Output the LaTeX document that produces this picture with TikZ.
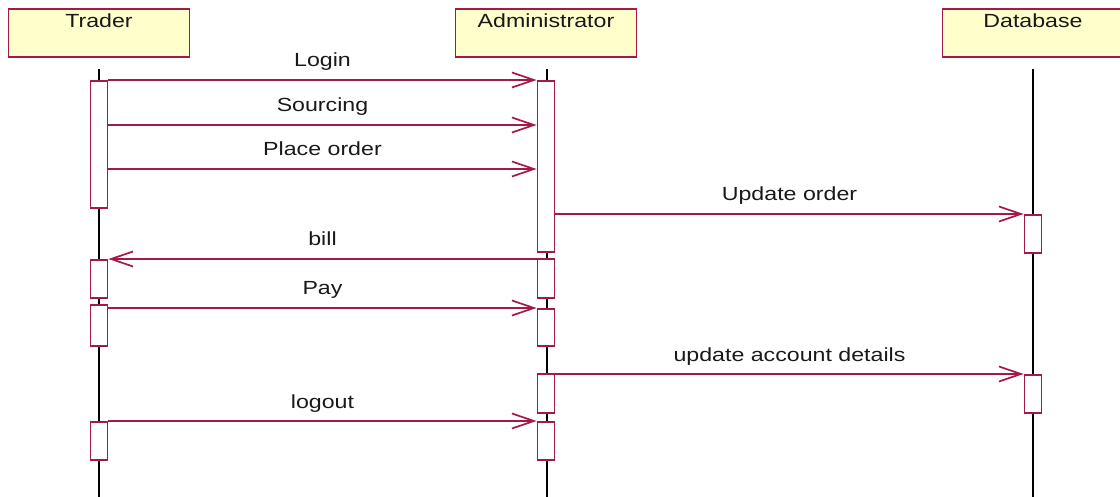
\documentclass[tikz,border=0pt]{standalone}
\usepackage{fontspec}
\setmainfont{Liberation Sans}[FakeStretch=1.22]
\usetikzlibrary{arrows.meta}
\definecolor{umlred}{RGB}{165,25,70}
\definecolor{umlyellow}{RGB}{255,255,204}
\begin{document}
\begin{tikzpicture}[x=1pt,y=-1pt,
  every node/.style={font=\fontsize{19}{22}\selectfont, text=black!90},
  head/.style={draw=umlred, line width=1.8pt, fill=umlyellow, minimum width=181pt, inner sep=0pt, text height=19pt, text depth=29pt, anchor=north},
  act/.style={draw=umlred, line width=1.8pt, fill=white, minimum width=17pt, inner sep=0pt, anchor=north},
  life/.style={line width=1.4pt, black},
  msg/.style={draw=umlred, line width=1.7pt, -{Straight Barb[length=22pt,width=15pt]}},
  lbl/.style={midway, anchor=base, yshift=13pt}]
\useasboundingbox (0,0) rectangle (1120,497);
\clip (0,0) rectangle (1120,497);
% headers
\node[head] (trader) at (99,8) {Trader};
\node[head] (admin) at (546,8) {Administrator};
\node[head] (db) at (1033,8) {Database};
% lifeline ends
\coordinate (tb) at (99,497);
\coordinate (ab) at (547,497);
\coordinate (db-b) at (1033,497);
\draw[life] ([yshift=-11pt]trader.south) -- (tb);
\draw[life] ([xshift=1pt,yshift=-11pt]admin.south) -- (ab);
\draw[life] ([yshift=-11pt]db.south) -- (db-b);
% activations
\node[act, minimum height=127pt] (ta1) at (99,80) {};
\node[act, minimum height=38pt] (ta2) at (99,259) {};
\node[act, minimum height=41pt] (ta3) at (99,304) {};
\node[act, minimum height=38pt] (ta4) at (99,421) {};
\node[act, minimum height=171pt] (aa1) at (546,80) {};
\node[act, minimum height=39pt] (aa2) at (546,258) {};
\node[act, minimum height=37pt] (aa3) at (546,308) {};
\node[act, minimum height=39pt] (aa4) at (546,373) {};
\node[act, minimum height=38pt] (aa5) at (546,421) {};
\node[act, minimum height=38pt] (da1) at (1033,214) {};
\node[act, minimum height=38pt] (da2) at (1033,374) {};
% messages
\draw[msg] (ta1.east |- 0,80) -- node[lbl]{Login} (aa1.west |- 0,80);
\draw[msg] (ta1.east |- 0,125) -- node[lbl]{Sourcing} (aa1.west |- 0,125);
\draw[msg] (ta1.east |- 0,169) -- node[lbl]{Place order} (aa1.west |- 0,169);
\draw[msg] (aa1.east |- 0,214) -- node[lbl]{Update order} (da1.west |- 0,214);
\draw[msg] (aa2.west |- 0,259) -- node[lbl]{bill} (ta2.east |- 0,259);
\draw[msg] (ta3.east |- 0,308) -- node[lbl]{Pay} (aa3.west |- 0,308);
\draw[msg] (aa4.east |- 0,374) -- node[lbl]{update account details} (da2.west |- 0,374);
\draw[msg] (ta4.east |- 0,421) -- node[lbl]{logout} (aa5.west |- 0,421);
\end{tikzpicture}
\end{document}
